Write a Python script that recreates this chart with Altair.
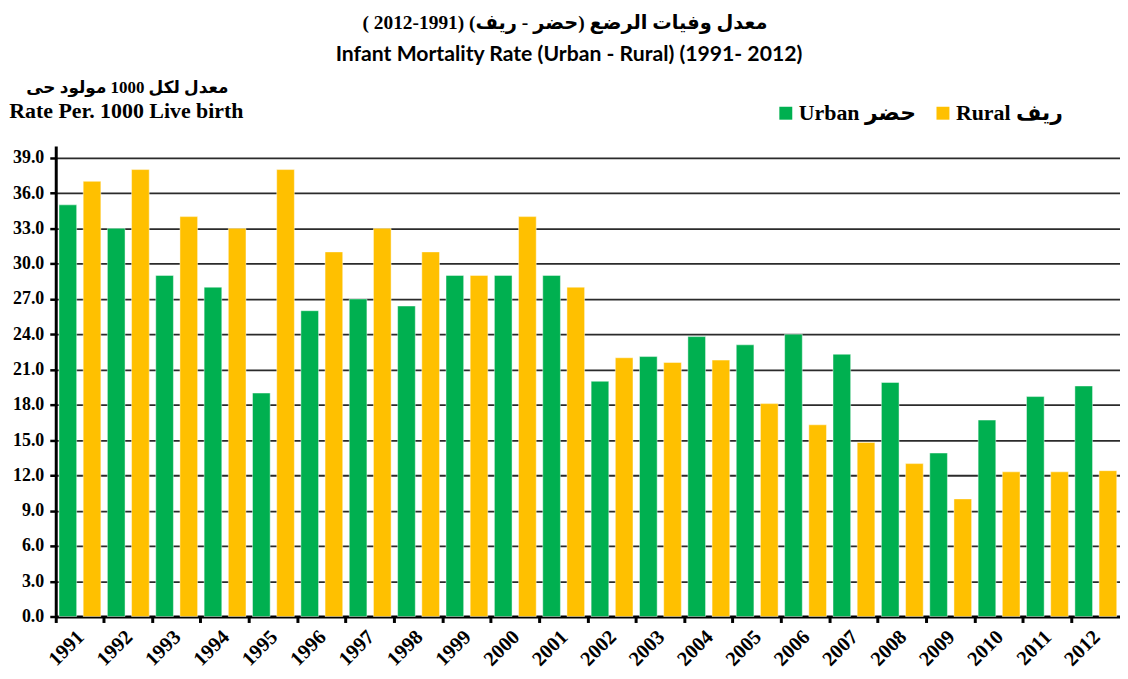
import altair as alt
import pandas as pd

# ---- data ----
years = ["1991", "1992", "1993", "1994", "1995", "1996", "1997", "1998", "1999", "2000", "2001",
         "2002", "2003", "2004", "2005", "2006", "2007", "2008", "2009", "2010", "2011", "2012"]
urban = [35.0, 33.0, 29.0, 28.0, 19.0, 26.0, 27.0, 26.4, 29.0, 29.0, 29.0,
         20.0, 22.1, 23.8, 23.1, 24.0, 22.3, 19.9, 13.9, 16.7, 18.7, 19.6]
rural = [37.0, 38.0, 34.0, 33.0, 38.0, 31.0, 33.0, 31.0, 29.0, 34.0, 28.0,
         22.0, 21.6, 21.8, 18.1, 16.3, 14.8, 13.0, 10.0, 12.3, 12.3, 12.4]
series_names = ["Urban حضر", "Rural ريف"]
series_colors = ["#00B050", "#FFC000"]
y_ticks = [0, 3, 6, 9, 12, 15, 18, 21, 24, 27, 30, 33, 36, 39]

RLE, PDF = "\u202b", "\u202c"
title_ar = RLE + "معدل وفيات الرضع (حضر - ريف) (1991-2012 )" + PDF
title_en = "Infant Mortality Rate (Urban - Rural) (1991- 2012)"
ytitle_ar = RLE + "معدل لكل 1000 مولود حى" + PDF
ytitle_en = "Rate Per. 1000 Live birth"

rows = []
for i, yr in enumerate(years):
    rows.append({"Year": yr, "Series": series_names[0], "Value": urban[i]})
    rows.append({"Year": yr, "Series": series_names[1], "Value": rural[i]})
df = pd.DataFrame(rows)

W, H = 1070, 473
SERIF = "Liberation Serif, DejaVu Sans"

bars = alt.Chart(df).mark_bar(stroke="white", strokeOpacity=0.45, strokeWidth=1).encode(
    x=alt.X(
        "Year:N", sort=years, title=None,
        scale=alt.Scale(paddingInner=0, paddingOuter=0),
        axis=alt.Axis(
            bandPosition=0, labelOffset=-6, labelAngle=315,
            labelAlign="right", labelBaseline="top", labelPadding=4,
            labelFont=SERIF, labelFontWeight="bold", labelFontSize=20.5, labelColor="black",
            tickSize=6, tickWidth=3, tickColor="black",
            domainColor="black", domainWidth=3, grid=False,
        ),
    ),
    xOffset=alt.XOffset("Series:N", sort=series_names,
                        scale=alt.Scale(paddingInner=0.27, paddingOuter=0.135)),
    y=alt.Y(
        "Value:Q",
        scale=alt.Scale(domain=[0, 40], nice=False, zero=True),
        axis=alt.Axis(
            values=y_ticks, format=".1f", title=None,
            labelFont=SERIF, labelFontWeight="bold", labelFontSize=18, labelColor="black",
            labelPadding=6, tickSize=6, tickWidth=2.5, tickColor="black",
            domainColor="black", domainWidth=3,
            grid=True, gridColor="#2b2b2b", gridWidth=1.8,
        ),
    ),
    color=alt.Color(
        "Series:N", sort=series_names,
        scale=alt.Scale(domain=series_names, range=series_colors),
        legend=alt.Legend(
            orient="none", legendX=723, legendY=-44, direction="horizontal", title=None,
            symbolType="square", symbolSize=169, symbolStrokeWidth=0, symbolOpacity=1,
            labelFont=SERIF, labelFontSize=22, labelFontWeight="bold", labelColor="black",
            labelOffset=2, columnPadding=16, padding=0,
        ),
    ),
)


def text_layer(txt, x, y, font, size):
    return alt.Chart(alt.Data(values=[{}])).mark_text(
        text=txt, font=font, fontSize=size, fontWeight="bold",
        align="center", baseline="alphabetic", color="black",
    ).encode(x=alt.value(x), y=alt.value(y))


t_ar = text_layer(title_ar, 512, -118, SERIF, 19.5)
t_en = text_layer(title_en, 516, -86, "Lato", 21.3)
yt_ar = text_layer(ytitle_ar, 72, -53, SERIF, 17)
yt_en = text_layer(ytitle_en, 71, -28, SERIF, 22)

chart = alt.layer(bars, t_ar, t_en, yt_ar, yt_en).properties(
    width=W, height=H,
    padding={"left": 48, "top": 137, "right": 0, "bottom": 53},
    autosize=alt.AutoSizeParams(type="none"),
).configure_view(stroke=None)

chart.save("out.html", embed_options={"renderer": "svg", "actions": False})
